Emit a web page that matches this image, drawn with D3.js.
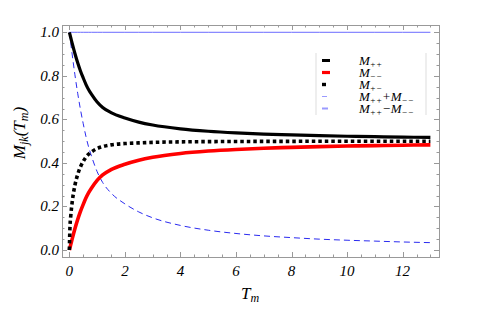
<!DOCTYPE html>
<meta charset="utf-8">
<style>
  body { margin: 0; background: #fff; }
  text { font-family: "Liberation Serif", "DejaVu Serif", serif; font-style: italic; }
</style>
<svg width="500" height="312"></svg>
<script src="https://cdn.jsdelivr.net/npm/d3@7"></script>
<script>

// values
var tm   = [0, 0.02, 0.05, 0.1, 0.2, 0.3, 0.4, 0.5, 0.6, 0.7, 0.8, 1.0, 1.2, 1.5, 2, 2.5, 3, 4, 5, 6, 7, 8, 9, 10, 11, 12, 13];
var mPP  = [1, 0.99, 0.975, 0.95, 0.9025, 0.86, 0.8225, 0.79, 0.76, 0.735, 0.715, 0.68, 0.655, 0.631, 0.606, 0.5875, 0.574, 0.5565, 0.5455, 0.538, 0.5325, 0.5285, 0.525, 0.5225, 0.5205, 0.5185, 0.517];
var mMM  = [0, 0.01, 0.025, 0.05, 0.0975, 0.14, 0.1775, 0.21, 0.24, 0.265, 0.285, 0.32, 0.345, 0.369, 0.394, 0.4125, 0.426, 0.4435, 0.4545, 0.462, 0.4675, 0.4715, 0.475, 0.4775, 0.4795, 0.4815, 0.483];
var mPM  = [0, 0.10, 0.156, 0.218, 0.297, 0.347, 0.382, 0.407, 0.427, 0.441, 0.451, 0.466, 0.475, 0.483, 0.489, 0.492, 0.4945, 0.4968, 0.4979, 0.4986, 0.4989, 0.4992, 0.4994, 0.4995, 0.4996, 0.4997, 0.4997];
var mSum = [1, 1, 1, 1, 1, 1, 1, 1, 1, 1, 1, 1, 1, 1, 1, 1, 1, 1, 1, 1, 1, 1, 1, 1, 1, 1, 1];
var mDif = [1, 0.98, 0.95, 0.90, 0.805, 0.72, 0.645, 0.58, 0.52, 0.47, 0.43, 0.36, 0.31, 0.262, 0.212, 0.175, 0.148, 0.113, 0.091, 0.076, 0.065, 0.057, 0.05, 0.045, 0.041, 0.037, 0.034];

var xTicks = [0, 2, 4, 6, 8, 10, 12];
var yTicks = [0, 0.2, 0.4, 0.6, 0.8, 1.0];

var svg = d3.select("svg");
var fLeft = 62, fRight = 439, fTop = 25, fBottom = 257;

var x = d3.scaleLinear().domain([-0.265, 13.31]).range([fLeft, fRight]);
var y = d3.scaleLinear().domain([-0.032, 1.0335]).range([fBottom, fTop]);

var frameCol = "#999";

// frame
svg.append("rect")
    .attr("x", fLeft + 0.5).attr("y", fTop + 0.5)
    .attr("width", fRight - fLeft).attr("height", fBottom - fTop)
    .attr("fill", "none").attr("stroke", frameCol).attr("stroke-width", 1);

// ticks, major + minor, all four sides pointing in
var xMinor = d3.range(0, 13.01, 0.5);
var yMinor = d3.range(0, 1.001, 0.05);
function isMajor(v, step) { return Math.abs(v / step - Math.round(v / step)) < 1e-6; }

var tk = svg.append("g").attr("stroke", frameCol).attr("stroke-width", 1);
xMinor.forEach(function(v) {
  var len = isMajor(v, 2) ? 5 : 2.5;
  var px = Math.round(x(v)) + 0.5;
  tk.append("line").attr("x1", px).attr("x2", px).attr("y1", fBottom).attr("y2", fBottom - len);
  tk.append("line").attr("x1", px).attr("x2", px).attr("y1", fTop).attr("y2", fTop + len);
});
yMinor.forEach(function(v) {
  var len = isMajor(v, 0.2) ? 5 : 2.5;
  var py = Math.round(y(v)) + 0.5;
  tk.append("line").attr("y1", py).attr("y2", py).attr("x1", fLeft).attr("x2", fLeft + len);
  tk.append("line").attr("y1", py).attr("y2", py).attr("x1", fRight).attr("x2", fRight - len);
});

// tick labels
svg.append("g").selectAll("text").data(xTicks).enter().append("text")
    .attr("x", function(d) { return x(d); })
    .attr("y", 276)
    .attr("text-anchor", "middle")
    .attr("font-size", 15)
    .text(function(d) { return d; });

svg.append("g").selectAll("text").data(yTicks).enter().append("text")
    .attr("x", 59)
    .attr("y", function(d) { return y(d) + 5; })
    .attr("text-anchor", "end")
    .attr("font-size", 15)
    .text(function(d) { return d3.format(".1f")(d); });

// axis titles
var xt = svg.append("text").attr("x", 250).attr("y", 299).attr("text-anchor", "middle").attr("font-size", 17);
xt.append("tspan").text("T");
xt.append("tspan").attr("font-size", 12).attr("dy", 3).text("m");

var yt = svg.append("text").attr("transform", "translate(25,133) rotate(-90)")
    .attr("text-anchor", "middle").attr("font-size", 17);
yt.append("tspan").text("M");
yt.append("tspan").attr("font-size", 12).attr("dy", 3).text("jk");
yt.append("tspan").attr("dy", -3).text("(T");
yt.append("tspan").attr("font-size", 12).attr("dy", 3).text("m");
yt.append("tspan").attr("dy", -3).text(")");

// curves
var series = [
  { v: mSum, color: "#6a6aff", w: 1,   dash: null },
  { v: mDif, color: "#2b2bf0", w: 1,   dash: "6,4" },
  { v: mMM,  color: "#ff0000", w: 3.6, dash: null },
  { v: mPM,  color: "#000",    w: 3.6, dash: "3.5,3" },
  { v: mPP,  color: "#000",    w: 3.2, dash: null }
];

var line = d3.line()
    .x(function(d) { return x(d[0]); })
    .y(function(d) { return y(d[1]); })
    .curve(d3.curveMonotoneX);

series.forEach(function(s) {
  svg.append("path")
      .attr("d", line(tm.map(function(t, i) { return [t, s.v[i]]; })))
      .attr("fill", "none")
      .attr("stroke", s.color)
      .attr("stroke-width", s.w)
      .attr("stroke-dasharray", s.dash);
});

// legend
var legItems = [
  { sub: ["++"],         color: "#000",    w: 3,   len: 8 },
  { sub: ["\u2212\u2212"], color: "#ff0000", w: 3.2, len: 8 },
  { sub: ["+\u2212"],    color: "#000",    w: 3.4, len: 4 },
  { sub: ["++", "\u2212\u2212"], op: "+", color: "#9a9aff", w: 1, len: 5 },
  { sub: ["++", "\u2212\u2212"], op: "\u2212", color: "#9a9aff", w: 2, len: 6 }
];
var lg = svg.append("g");
lg.append("line").attr("x1", 316).attr("x2", 316).attr("y1", 53).attr("y2", 115).attr("stroke", "#ddd");
lg.append("line").attr("x1", 426).attr("x2", 426).attr("y1", 53).attr("y2", 115).attr("stroke", "#ddd");

legItems.forEach(function(d, i) {
  var yy = 60.5 + i * 12;
  lg.append("line")
      .attr("x1", 322).attr("x2", 322 + d.len)
      .attr("y1", yy).attr("y2", yy)
      .attr("stroke", d.color).attr("stroke-width", d.w);
  var t = lg.append("text").attr("x", 359).attr("y", yy + 4).attr("font-size", 13);
  t.append("tspan").text("M");
  t.append("tspan").attr("font-size", 9).attr("dy", 2.5).text(d.sub[0]);
  if (d.op) {
    t.append("tspan").attr("dy", -2.5).text(d.op + "M");
    t.append("tspan").attr("font-size", 9).attr("dy", 2.5).text(d.sub[1]);
  }
});

</script>
